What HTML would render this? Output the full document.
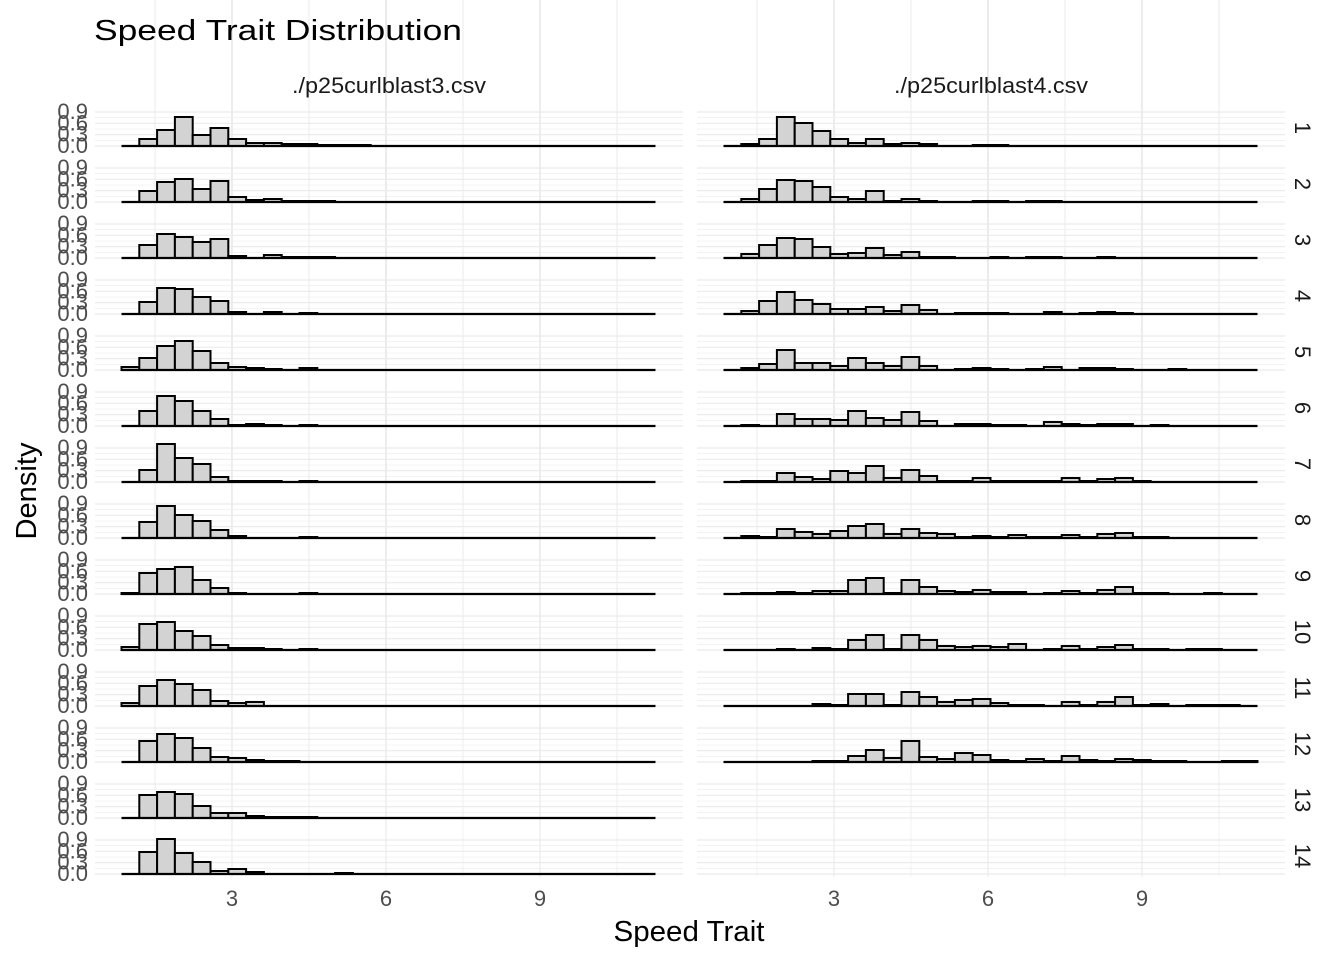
<!DOCTYPE html>
<html><head><meta charset="utf-8"><style>
html,body{margin:0;padding:0;background:#fff;}
svg{display:block;font-family:"Liberation Sans",Arial,sans-serif;}
</style></head><body>
<svg id="s" width="1344" height="960" viewBox="0 0 1344 960" xmlns="http://www.w3.org/2000/svg">
<rect width="1344" height="960" fill="#fff"/>
<g id="grid"></g>
<g id="bars"></g>
<text x="94" y="40" font-size="29" fill="#000" textLength="368" lengthAdjust="spacingAndGlyphs">Speed Trait Distribution</text>
<text x="389" y="93" font-size="22" fill="#1a1a1a" text-anchor="middle" textLength="194" lengthAdjust="spacingAndGlyphs">./p25curlblast3.csv</text>
<text x="991" y="93" font-size="22" fill="#1a1a1a" text-anchor="middle" textLength="194" lengthAdjust="spacingAndGlyphs">./p25curlblast4.csv</text>
<g font-size="22" fill="#4d4d4d" text-anchor="middle">
<text x="232" y="906">3</text><text x="386" y="906">6</text><text x="540" y="906">9</text>
<text x="834" y="906">3</text><text x="988" y="906">6</text><text x="1142" y="906">9</text>
</g>
<text x="689" y="941" font-size="29" fill="#000" text-anchor="middle" textLength="151" lengthAdjust="spacingAndGlyphs">Speed Trait</text>
<text transform="translate(36,491) rotate(-90)" font-size="29" fill="#000" text-anchor="middle" textLength="97" lengthAdjust="spacingAndGlyphs">Density</text>
<g id="ylab" font-size="22" fill="#4d4d4d" text-anchor="end"></g>
<g id="rlab" font-size="22" fill="#1a1a1a" text-anchor="middle"></g>
</svg>
<script>
var L=[[0,7,16,29,11,18,7,3,3,2,2,1,1,1],[0,11,20,23,13,21,5,2,3,1,1,1],[0,13,24,21,16,19,2,0,3,1,1,1],[0,12,26,25,17,13,2,0,2,0,1],[3,12,24,29,19,7,3,2,1,0,2],[0,15,30,25,15,7,1,2,1,0,1],[0,12,38,24,18,5,1,1,1,0,1],[0,16,32,23,17,8,2,0,0,0,1],[1,21,25,27,14,6,1,0,0,0,1],[3,26,28,19,14,5,2,2,1,0,1],[3,20,26,22,16,5,3,4],[0,21,28,24,14,5,4,2,1,1],[0,23,26,24,12,5,5,2,1,1,1],[0,22,35,21,12,3,5,2,0,0,0,0,1]];
var R=[[0,2,7,29,23,15,7,3,7,2,3,2,0,0,1,1],[0,3,13,22,21,15,5,3,11,1,3,1,0,0,1,1,0,1,1],[0,4,13,20,19,11,4,5,10,3,6,1,1,0,0,1,0,1,1,0,0,1],[0,3,13,22,14,10,5,5,7,3,9,4,0,1,1,1,0,0,2,0,1,2,1],[0,2,6,20,7,7,4,12,7,4,13,4,0,1,2,1,0,1,3,0,2,2,1,0,0,1],[0,1,0,12,7,7,6,15,8,6,14,5,0,2,2,1,1,0,4,2,1,2,2,0,1],[0,1,1,9,5,3,11,9,16,4,12,6,1,1,4,1,1,1,1,4,1,3,4,1],[0,2,1,9,6,4,7,12,14,4,9,5,4,1,2,1,3,1,1,3,1,4,5,1,1],[0,1,1,2,1,3,3,14,16,1,14,7,3,2,4,2,2,0,1,3,1,4,7,1,1,0,0,1],[0,0,0,1,0,2,1,10,15,1,15,10,4,3,4,3,6,0,1,4,1,3,5,1,1,0,1,1],[0,0,0,0,0,2,1,12,12,1,14,9,4,6,7,3,1,1,0,4,1,4,9,1,2,0,1,1,1],[0,0,0,0,0,1,1,6,12,4,21,5,3,9,7,2,1,3,1,6,2,1,3,2,1,1,0,0,1,1],[],[]];
var g='',b='',yl='',rl='';
var U=51.33,bw=17.8;
for(var r=0;r<14;r++){
 var base=146+56*r, top=base-39, bot=base+3;
 for(var p=0;p<2;p++){
  var off=p*602, x0=95+off, x1=683+off;
  for(var k=0;k<7;k++){var y=base-k*5.67;g+='<line x1="'+x0+'" x2="'+x1+'" y1="'+y+'" y2="'+y+'" stroke="#ebebeb" stroke-width="'+(k%2?0.6:1.2)+'"/>';}
  [1.5,3,4.5,6,7.5,9,10.5].forEach(function(v,i){var x=78+v*U+off;g+='<line x1="'+x+'" x2="'+x+'" y1="'+top+'" y2="'+bot+'" stroke="#ebebeb" stroke-width="'+(i%2?1.2:0.6)+'"/>';});
  var d=p?R[r]:L[r];
  if(p==1&&r>=12)continue;
  var sx=121.5+off;
  for(var i=0;i<30;i++){var h=d[i]||0;if(h>0){b+='<rect x="'+(sx+i*bw)+'" y="'+(base-h)+'" width="'+bw+'" height="'+h+'" fill="#d3d3d3" stroke="#000" stroke-width="2"/>';}}
  b+='<line x1="'+sx+'" x2="'+(sx+30*bw)+'" y1="'+base+'" y2="'+base+'" stroke="#000" stroke-width="2.2"/>';
 }
 ['0.0','0.3','0.6','0.9'].forEach(function(t,k){yl+='<text x="88" y="'+(base-k*11.33+7)+'">'+t+'</text>';});
 rl+='<text transform="translate(1295,'+(base-18)+') rotate(90)">'+(r+1)+'</text>';
}
document.getElementById('grid').innerHTML=g;
document.getElementById('bars').innerHTML=b;
document.getElementById('ylab').innerHTML=yl;
document.getElementById('rlab').innerHTML=rl;
</script>
</body></html>
